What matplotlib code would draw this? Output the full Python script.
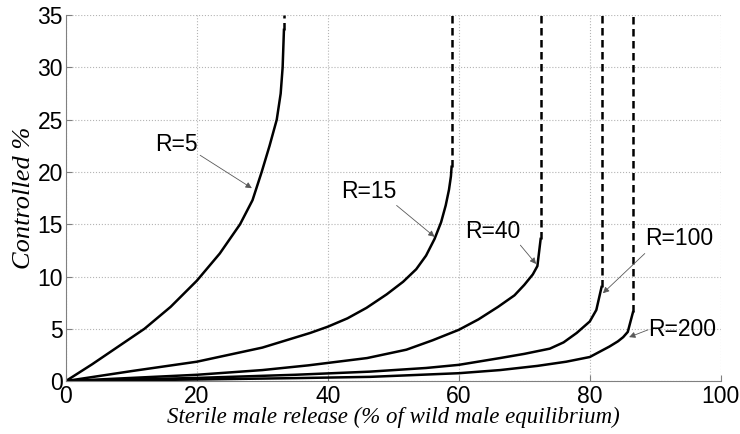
import numpy as np
import matplotlib.pyplot as plt

# curves (x = sterile male release %, y = controlled %)
r5_x = [0, 4, 8, 12, 16, 20, 23.5, 26.6, 28.5, 29.9, 31.1, 32.2, 32.8, 33.1, 33.3]
r5_y = [0, 1.6, 3.3, 5.0, 7.1, 9.6, 12.2, 15.0, 17.3, 20.0, 22.5, 25.0, 27.5, 30.0, 33.6]

r15_x = [0, 10, 20, 30, 37.3, 40, 43, 45.9, 49, 51.5, 53.5, 55, 56.3, 57.3, 58.0, 58.5, 58.8, 58.9]
r15_y = [0, 0.95, 1.85, 3.2, 4.6, 5.2, 6.0, 7.0, 8.3, 9.5, 10.7, 12.0, 13.6, 15.2, 16.8, 18.3, 19.6, 20.5]

r40_x = [0, 20, 30, 37, 46, 52, 56, 60, 63, 66, 68.5, 70, 71.3, 72, 72.5]
r40_y = [0, 0.6, 1.05, 1.5, 2.2, 3.0, 3.9, 4.9, 5.9, 7.1, 8.2, 9.2, 10.2, 11.0, 13.6]

r100_x = [0, 20, 35, 46.4, 55, 60, 66.3, 70, 73.9, 76, 78, 80, 81, 81.8]
r100_y = [0, 0.3, 0.6, 0.9, 1.25, 1.55, 2.2, 2.6, 3.1, 3.7, 4.6, 5.7, 6.8, 9.0]

r200_x = [0, 20, 35, 46.4, 60, 66.3, 72, 76.4, 80, 83, 84.3, 85.1, 85.8, 86.6]
r200_y = [0, 0.15, 0.28, 0.4, 0.75, 1.05, 1.45, 1.85, 2.3, 3.3, 3.8, 4.2, 4.7, 6.6]

curves = [(r5_x, r5_y), (r15_x, r15_y), (r40_x, r40_y), (r100_x, r100_y), (r200_x, r200_y)]

# labels: text, text position, arrow tail, arrow tip
labels = ['R=5', 'R=15', 'R=40', 'R=100', 'R=200']
label_pos = [(16.9, 22.6), (46.3, 18.1), (65.2, 14.3), (93.7, 13.6), (94.1, 4.95)]
arrow_tail = [(20.5, 21.6), (50.5, 16.8), (69.4, 13.0), (88.4, 12.2), (88.9, 4.9)]
arrow_tip = [(28.4, 18.45), (56.3, 13.8), (71.8, 11.2), (82.0, 8.4), (86.0, 4.2)]

fig = plt.figure(figsize=(7.4, 4.34), dpi=100)
ax = fig.add_axes([0.089, 0.122, 0.885, 0.843])

for xs, ys in curves:
    ax.plot(xs, ys, color='black', lw=1.8, solid_joinstyle='round')
    # dashed asymptote from the curve end to the top
    ax.plot([xs[-1], xs[-1]], [ys[-1], 35], color='black', lw=1.8, linestyle=(0, (3, 1.8)))

for lab, pos, tail, tip in zip(labels, label_pos, arrow_tail, arrow_tip):
    ax.text(pos[0], pos[1], lab, ha='center', va='center', fontsize=16.5,
            family='Liberation Sans')
    ax.annotate('', xy=tip, xytext=tail,
                arrowprops=dict(arrowstyle='-|>', color='0.35', lw=0.6,
                                mutation_scale=9, shrinkA=0, shrinkB=0))

ax.set_xlim(0, 100)
ax.set_ylim(0, 35)
ax.set_xticks([0, 20, 40, 60, 80, 100])
ax.set_yticks([0, 5, 10, 15, 20, 25, 30, 35])
ax.grid(True, color='#b4b4b4', linestyle=':', lw=0.8)
ax.set_axisbelow(True)

for s in ['top', 'right']:
    ax.spines[s].set_visible(False)
for s in ['left', 'bottom']:
    ax.spines[s].set_color('#808080')
    ax.spines[s].set_linewidth(0.8)
ax.tick_params(direction='in', length=4, color='#808080', labelsize=16.5, pad=2)
ax.tick_params(axis='x', pad=3)
for t in ax.get_xticklabels() + ax.get_yticklabels():
    t.set_family('Liberation Sans')

ax.set_xlabel('Sterile male release (% of wild male equilibrium)', fontsize=16.5,
              family='Liberation Serif', style='italic', labelpad=-1)
ax.set_ylabel('Controlled %', fontsize=19, family='Liberation Serif', style='italic',
              labelpad=2)

fig.savefig('out.png', dpi=100)
